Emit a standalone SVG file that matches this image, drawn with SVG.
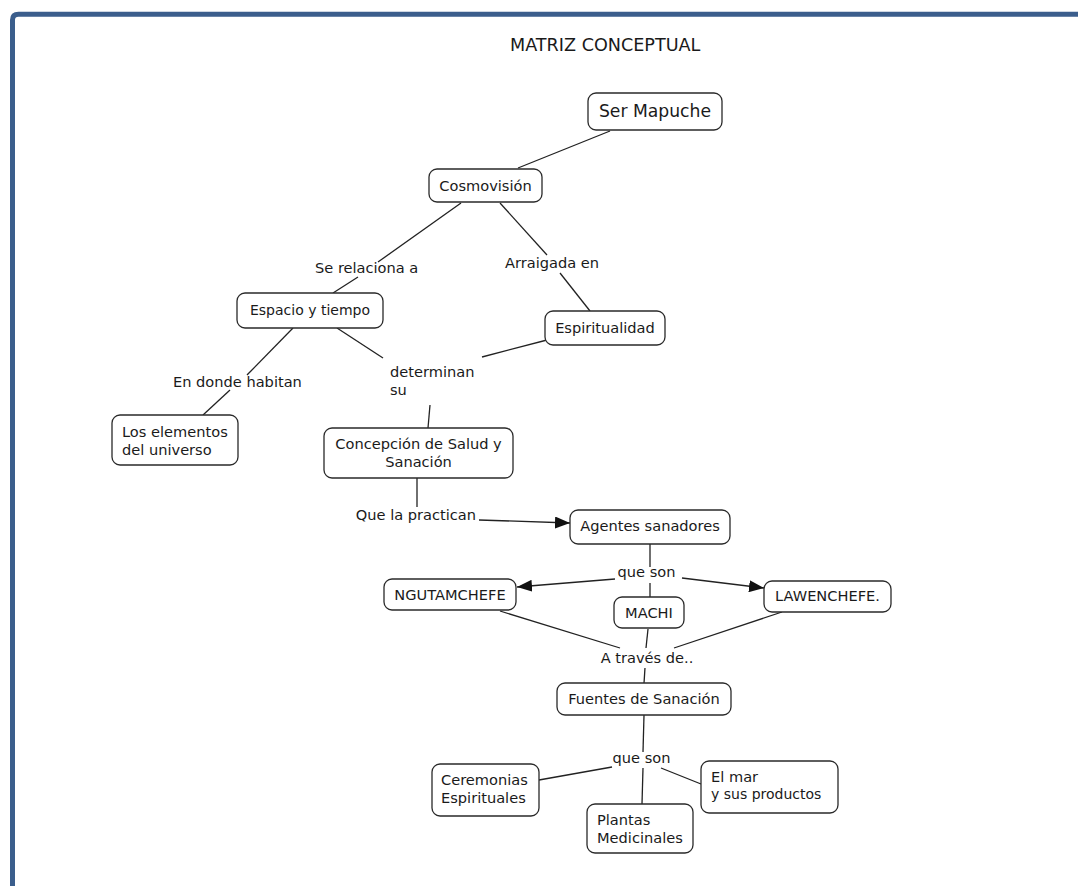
<svg xmlns="http://www.w3.org/2000/svg" width="1078" height="886" viewBox="0 0 1078 886">
<style>
.frame{fill:none;stroke:#3b5e8c;stroke-width:5}
.box{fill:#fff;stroke:#2a2a2a;stroke-width:1.3}
.t{font-family:"DejaVu Sans",Verdana,sans-serif;font-size:14.6px;fill:#1a1a1a}
.c{text-anchor:middle}
.e{text-anchor:end}
.ln{fill:none;stroke:#222;stroke-width:1.3}
.big{font-family:"DejaVu Sans",Verdana,sans-serif;font-size:17.2px;fill:#1a1a1a}
</style>
<defs>
<marker id="arr" viewBox="0 0 15 12" refX="15" refY="6" markerWidth="15" markerHeight="12" markerUnits="userSpaceOnUse" orient="auto">
<path d="M0,0 L15,6 L0,12 z" fill="#111"/>
</marker>
</defs>
<rect width="1078" height="886" fill="#fff"/>
<path class="frame" d="M12.5,886 V20 Q12.5,14.2 18.5,14.2 H1078"/>
<text class="big" x="510" y="51" style="font-size:17.6px">MATRIZ CONCEPTUAL</text>

<g id="connectors">
<line class="ln" x1="610" y1="131" x2="518" y2="168"/>
<line class="ln" x1="461" y1="203" x2="378" y2="262"/>
<line class="ln" x1="358" y1="277" x2="333" y2="293"/>
<line class="ln" x1="500" y1="203" x2="547" y2="255"/>
<line class="ln" x1="560" y1="273" x2="590" y2="311"/>
<line class="ln" x1="293" y1="328" x2="247" y2="375"/>
<line class="ln" x1="230" y1="390" x2="203" y2="415"/>
<line class="ln" x1="337" y1="328" x2="383" y2="358"/>
<line class="ln" x1="547" y1="340" x2="482" y2="357"/>
<line class="ln" x1="430" y1="405" x2="428" y2="428"/>
<line class="ln" x1="417" y1="478" x2="417" y2="507"/>
<line class="ln" x1="479" y1="520" x2="570" y2="523" marker-end="url(#arr)"/>
<line class="ln" x1="650" y1="544" x2="650" y2="567"/>
<line class="ln" x1="650" y1="583" x2="650" y2="597"/>
<line class="ln" x1="615" y1="579" x2="517" y2="587" marker-end="url(#arr)"/>
<line class="ln" x1="682" y1="578" x2="764" y2="588" marker-end="url(#arr)"/>
<line class="ln" x1="500" y1="611" x2="620" y2="648"/>
<line class="ln" x1="648" y1="629" x2="646" y2="648"/>
<line class="ln" x1="782" y1="612" x2="674" y2="648"/>
<line class="ln" x1="645" y1="668" x2="644" y2="683"/>
<line class="ln" x1="644" y1="715" x2="643" y2="752"/>
<line class="ln" x1="612" y1="767" x2="539" y2="780"/>
<line class="ln" x1="643" y1="768" x2="642" y2="804"/>
<line class="ln" x1="661" y1="768" x2="701" y2="784"/>
</g>

<g id="lbl-se-relaciona"><text class="t" x="315" y="273">Se relaciona a</text></g>
<g id="lbl-arraigada"><text class="t" x="505" y="268">Arraigada en</text></g>
<g id="lbl-en-donde"><text class="t" x="173" y="387">En donde habitan</text></g>
<g id="lbl-determinan"><text class="t" x="390" y="377">determinan</text><text class="t" x="390" y="395">su</text></g>
<g id="lbl-practican"><text class="t e" x="476" y="520">Que la practican</text></g>
<g id="lbl-que-son-1"><text class="t c" x="646.5" y="577">que son</text></g>
<g id="lbl-traves"><text class="t c" x="647" y="663">A través de..</text></g>
<g id="lbl-que-son-2"><text class="t c" x="641.5" y="763">que son</text></g>

<g id="n-ser-mapuche"><rect class="box" x="588" y="93" width="134" height="37" rx="8"/><text class="big c" x="655" y="117">Ser Mapuche</text></g>
<g id="n-cosmovision"><rect class="box" x="429" y="169" width="113" height="33" rx="8"/><text class="t c" x="485.5" y="191">Cosmovisión</text></g>
<g id="n-espacio"><rect class="box" x="237" y="293" width="146" height="35" rx="8"/><text class="t c" x="310" y="315" style="font-size:14px">Espacio y tiempo</text></g>
<g id="n-espiritualidad"><rect class="box" x="545" y="311" width="120" height="34" rx="8"/><text class="t c" x="605" y="333">Espiritualidad</text></g>
<g id="n-elementos"><rect class="box" x="112" y="415" width="126" height="50" rx="8"/><text class="t" x="122" y="437">Los elementos</text><text class="t" x="122" y="455">del universo</text></g>
<g id="n-concepcion"><rect class="box" x="324" y="428" width="189" height="50" rx="8"/><text class="t c" x="418.5" y="449">Concepción de Salud y</text><text class="t c" x="418.5" y="467">Sanación</text></g>
<g id="n-agentes"><rect class="box" x="570" y="510" width="160" height="34" rx="8"/><text class="t c" x="650" y="531">Agentes sanadores</text></g>
<g id="n-ngutamchefe"><rect class="box" x="384" y="579" width="132" height="31" rx="8"/><text class="t c" x="450" y="600">NGUTAMCHEFE</text></g>
<g id="n-machi"><rect class="box" x="614" y="597" width="70" height="31" rx="8"/><text class="t c" x="649" y="618">MACHI</text></g>
<g id="n-lawenchefe"><rect class="box" x="764" y="581" width="127" height="31" rx="8"/><text class="t c" x="827.5" y="601">LAWENCHEFE.</text></g>
<g id="n-fuentes"><rect class="box" x="557" y="683" width="174" height="32" rx="8"/><text class="t c" x="644" y="704">Fuentes de Sanación</text></g>
<g id="n-ceremonias"><rect class="box" x="432" y="764" width="107" height="52" rx="8"/><text class="t" x="441" y="785">Ceremonias</text><text class="t" x="441" y="803">Espirituales</text></g>
<g id="n-plantas"><rect class="box" x="587" y="804" width="106" height="49" rx="8"/><text class="t" x="597" y="825">Plantas</text><text class="t" x="597" y="843">Medicinales</text></g>
<g id="n-elmar"><rect class="box" x="701" y="761" width="137" height="52" rx="8"/><text class="t" x="711" y="782">El mar</text><text class="t" x="711" y="799" style="font-size:14px">y sus productos</text></g>
</svg>
